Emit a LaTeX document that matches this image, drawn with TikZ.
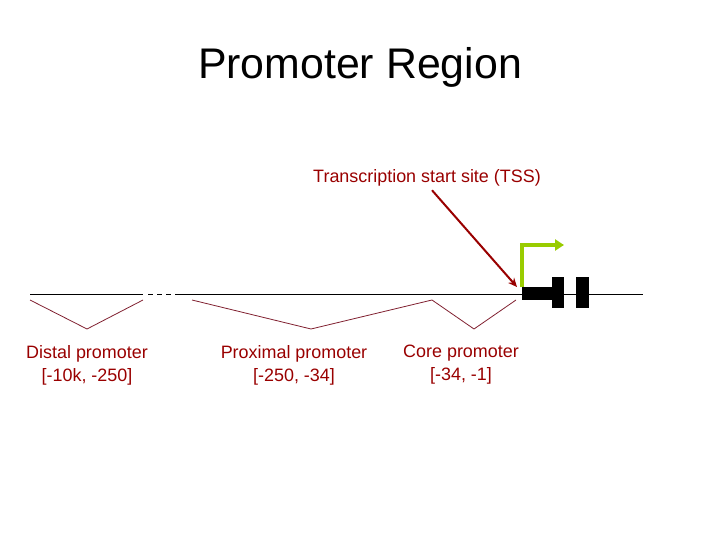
\documentclass[tikz,border=0pt]{standalone}
\usepackage{fontspec}
\setmainfont{Liberation Sans}
\usetikzlibrary{arrows.meta, positioning}
\definecolor{tssred}{HTML}{990000}
\definecolor{bracketred}{HTML}{802030}
\definecolor{tssgreen}{HTML}{99CC00}

\begin{document}
\begin{tikzpicture}[x=1bp, y=-1bp,
    region/.style={font=\fontsize{18}{23}\selectfont, text=tssred, align=center, inner sep=0pt, anchor=north},
    bracket/.style={draw=bracketred, line width=0.8bp},
    strand/.style={line width=1bp},
    exon/.style={fill=black, draw=none}]

  \useasboundingbox (0,0) rectangle (720,540);

  % Title
  \node[font=\fontsize{43}{50}\selectfont, anchor=base] (title) at (360,79) {Promoter Region};

  % DNA strand
  \draw[strand] (30,294) -- (143,294);
  \draw[strand, dash pattern=on 5bp off 4bp] (148,294) -- (173,294);
  \draw[strand] (175,294) -- (643,294);

  % Gene body
  \fill[exon] (522,287) rectangle (552,300);
  \fill[exon] (552,277) rectangle (564,308);
  \fill[exon] (576,277) rectangle (589,308);

  % TSS
  \coordinate (tsspoint) at (517,287);
  \node[font=\fontsize{18}{22}\selectfont, text=tssred, anchor=base] (tss) at (427,183) {Transcription start site (TSS)};
  \draw[tssred, line width=2bp, -{Stealth[length=9bp, width=8bp]}] ([xshift=5bp]tss.south) -- (tsspoint);
  \draw[tssgreen, line width=4bp, -{Triangle[length=9bp, width=11bp]}] (522,287) |- (564,245);

  % Region brackets
  \draw[bracket] (30,300) -- (87,329) -- (143,300);
  \draw[bracket] (192,300) -- (311,329) -- (432,300);
  \draw[bracket] (432,300) -- (474,329) -- (516,300);

  % Labels below
  \node[region] (distal) at (87,345) {Distal promoter\\{}[-10k, -250]};
  \node[region] (proximal) at (294,345) {Proximal promoter\\{}[-250, -34]};
  \node[region] (core) at (461,345) {Core promoter\\{}[-34, -1]};
\end{tikzpicture}
\end{document}
